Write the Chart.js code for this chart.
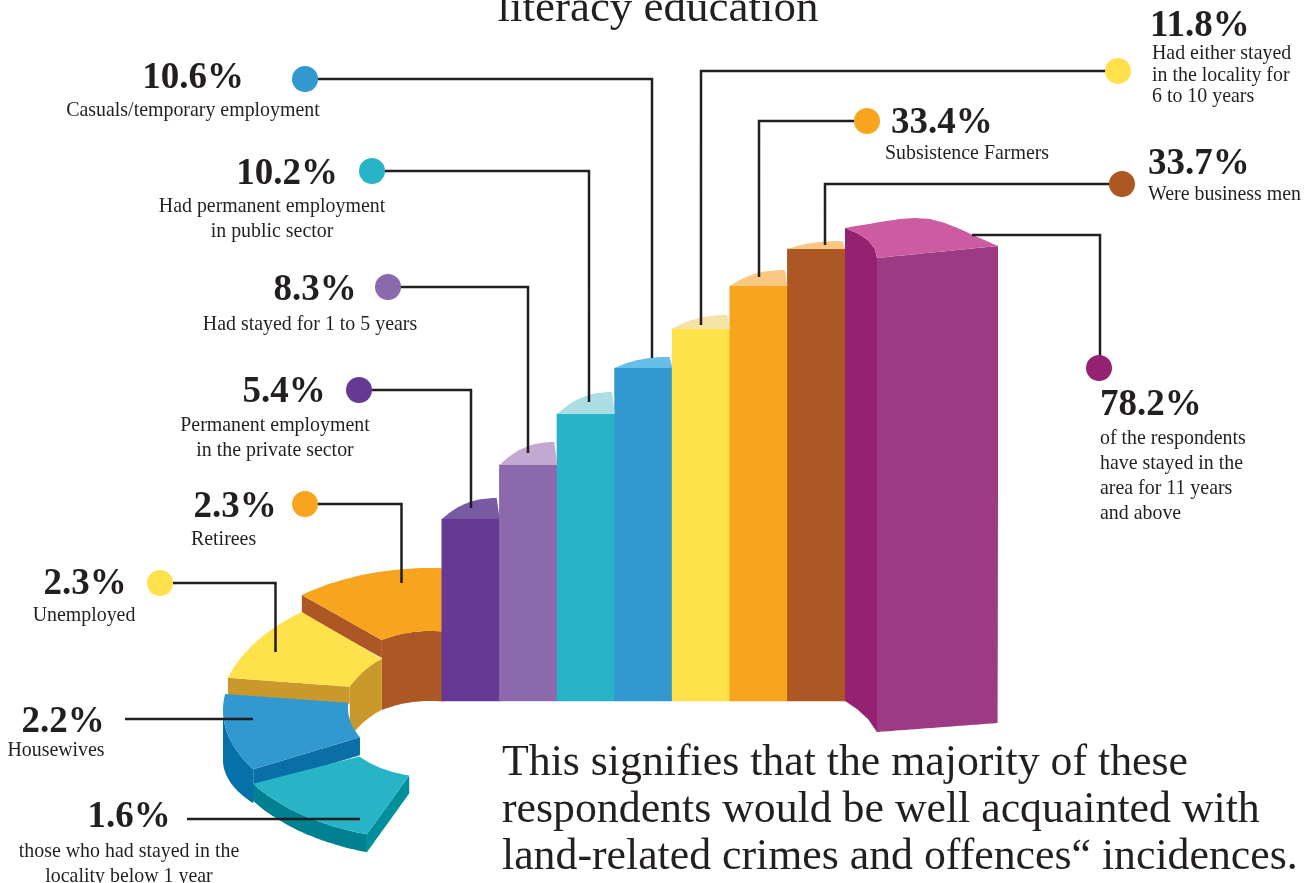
<!DOCTYPE html>
<html lang="en">
<head>
<meta charset="utf-8">
<title>Respondents</title>
<script src="https://cdn.jsdelivr.net/npm/chart.js@4/dist/chart.umd.js"></script>
<style>
    html, body { margin: 0; padding: 0; background: #fff; }
    canvas { display: block; }
</style>
</head>
<body>
<canvas id="chart" width="1314" height="883"></canvas>
<script>
// ring slices, from the back of the ring round to the front
const ringCaptions = [
    ["Retirees"],
    ["Unemployed"],
    ["Housewives"],
    ["those who had stayed in the", "locality below 1 year"]
];
const ringPercents = [2.3, 2.3, 2.2, 1.6];

// columns, shortest to tallest
const barCaptions = [
    ["Permanent employment", "in the private sector"],
    ["Had stayed for 1 to 5 years"],
    ["Had permanent employment", "in public sector"],
    ["Casuals/temporary employment"],
    ["Had either stayed", "in the locality for", "6 to 10 years"],
    ["Subsistence Farmers"],
    ["Were business men"],
    ["of the respondents", "have stayed in the", "area for 11 years", "and above"]
];
const barPercents = [5.4, 8.3, 10.2, 10.6, 11.8, 33.4, 33.7, 78.2];

const titleLine = "literacy education";
const summaryLines = [
    "This signifies that the majority of these",
    "respondents would be well acquainted with",
    "land-related crimes and offences\u201C incidences."
];

const INK = "#231f20";
const SERIF = '"Liberation Serif", serif';

const barColors = ["#663a94", "#8c68ac", "#27b4c7", "#3199cf", "#ffe14b", "#f7a51e", "#ad5725"];
const capColors = ["#7859a3", "#c3a8d2", "#abdde4", "#66bfe6", "#f5e3a5", "#f8c781", "#f8c781"];
const capRise = [21, 23, 22, 11, 14, 16, 8];
const barLeft = 442;
const barStep = 57.6;

// the columns are stepped, not to scale: percent -> canvas y
const stairKnots = [[0, 701], [5.4, 519], [8.3, 465], [10.2, 414], [10.6, 368], [11.8, 329], [33.4, 286], [33.7, 249], [78.2, 228], [100, 200]];

function stairY(value) {
    for (let i = 1; i < stairKnots.length; i++) {
        const [v0, y0] = stairKnots[i - 1];
        const [v1, y1] = stairKnots[i];
        if (value <= v1) {
            return y0 + (y1 - y0) * (value - v0) / (v1 - v0);
        }
    }
    return stairKnots[stairKnots.length - 1][1];
}

class StairScale extends Chart.LinearScale {
    getPixelForValue(value) {
        return stairY(value);
    }
}
StairScale.id = "stair";
StairScale.defaults = {};
Chart.register(StairScale);

// angles run from the top of the ellipse, anticlockwise
function arc([cx, cy, rx, ry, from, to], drop = [0, 0]) {
    const points = [];
    const steps = 18;
    for (let i = 0; i <= steps; i++) {
        const t = (from + (to - from) * i / steps) * Math.PI / 180;
        const shift = drop[0] + (drop[1] - drop[0]) * i / steps;
        points.push({ x: cx - rx * Math.sin(t), y: cy - ry * Math.cos(t) + shift });
    }
    return points;
}

const ringSlices = [
    { top: "#f7a51e", cut: "#ad5725", wall: "#ad5725", depth: 18, innerDrop: 70,
      outer: [430, 701, 212, 133, -5, 37.2], inner: [430, 701, 98, 70, -8, 29.4] },
    { top: "#ffe14b", cut: "#c9992c", wall: "#c9992c", depth: 17, innerDrop: 51,
      outer: [430, 718, 212, 133, 37.2, 72.4], inner: [430, 730, 94, 83, 30.8, 58.6] },
    { top: "#3199cf", cut: "#0a6fa6", wall: "#0671a8", depth: 18, outerDrop: [50, 34], wallFrom: 90,
      outer: [435, 710, 212, 115, 82, 121], inner: [440, 708, 92, 59, 85, 119.6] },
    { top: "#27b4c7", cut: "#00909b", wall: "#008090", depth: 18, outerDrop: [17, 18], wallFrom: 123.4,
      outer: [430, 715, 212, 125, 123.4, 162.7], inner: [430, 707, 100, 70, 135, 168] }
];

const datasets = [];

// later calls end up on top; the tiny tension keeps Chart.js off its fast path,
// which merges points that share an x pixel and breaks closed outlines
function shape(points, color) {
    datasets.push({
        type: "scatter",
        data: points,
        showLine: true,
        fill: "shape",
        tension: 0.0001,
        backgroundColor: color,
        borderWidth: 0,
        pointRadius: 0,
        xAxisID: "x",
        yAxisID: "grid",
        order: 1000 - datasets.length
    });
}

function leader(points) {
    datasets.push({
        type: "scatter",
        data: points,
        showLine: true,
        fill: false,
        tension: 0.0001,
        borderColor: INK,
        borderWidth: 2.5,
        pointRadius: 0,
        xAxisID: "x",
        yAxisID: "grid",
        order: 1000 - datasets.length
    });
}

function drawRingSlice(slice) {
    const outer = arc(slice.outer);
    const inner = arc(slice.inner);
    const outerEnd = outer[outer.length - 1];
    const innerEnd = inner[inner.length - 1];
    if (slice.innerDrop) {
        shape([...inner, ...arc(slice.inner, [slice.innerDrop, slice.innerDrop]).reverse()], slice.wall);
    }
    if (slice.outerDrop) {
        const wallEdge = [...slice.outer];
        wallEdge[4] = slice.wallFrom;
        shape([...arc(wallEdge), ...arc(wallEdge, slice.outerDrop).reverse()], slice.wall);
    }
    shape([outerEnd, innerEnd, { x: innerEnd.x, y: innerEnd.y + slice.depth }, { x: outerEnd.x, y: outerEnd.y + slice.depth }], slice.cut);
    shape([...outer, ...inner.slice().reverse()], slice.top);
}

ringSlices.forEach(drawRingSlice);

// the seven flat columns
const flatPercents = barPercents.slice(0, 7);
datasets.push({
    type: "bar",
    data: flatPercents.map((value, i) => ({ x: barLeft + barStep * (i + 0.5), y: value })),
    backgroundColor: barColors,
    borderWidth: 0,
    barThickness: barStep + 0.4,
    xAxisID: "x",
    yAxisID: "y",
    order: 1000 - datasets.length
});

// curved caps sitting on the columns; outline starts at the lower right corner
flatPercents.forEach((value, i) => {
    const left = barLeft + barStep * i;
    const top = stairY(value);
    const cap = [{ x: left + barStep, y: top }];
    for (let u = 0; u <= 1.001; u += 0.05) {
        cap.push({ x: left + barStep * u, y: top - capRise[i] * (1 - Math.pow(1 - u, 2.5)) });
    }
    shape(cap, capColors[i]);
});

// the big box at the end of the run
const boxTop = stairY(barPercents[7]);
shape([
    { x: 845, y: 701 }, { x: 857, y: 709 }, { x: 868, y: 719 }, { x: 877, y: 732 },
    { x: 877, y: boxTop + 30 }, { x: 875, y: boxTop + 21 }, { x: 868, y: boxTop + 12 },
    { x: 857, y: boxTop + 5 }, { x: 845, y: boxTop }
], "#952270");
shape([
    { x: 877, y: boxTop + 30 }, { x: 998, y: boxTop + 18 }, { x: 998, y: 723 }, { x: 877, y: 732 }
], "#9c3a83");
shape([
    { x: 845, y: boxTop }, { x: 880, y: boxTop - 6 }, { x: 900, y: boxTop - 9 }, { x: 915, y: boxTop - 10 },
    { x: 930, y: boxTop - 9 }, { x: 945, y: boxTop - 5 }, { x: 960, y: boxTop + 1 }, { x: 975, y: boxTop + 8 },
    { x: 998, y: boxTop + 18 }, { x: 877, y: boxTop + 30 }, { x: 875, y: boxTop + 21 }, { x: 868, y: boxTop + 12 },
    { x: 857, y: boxTop + 5 }
], "#cc5ca2");

// leader lines, dot end first
leader([{ x: 305, y: 79 }, { x: 652, y: 79 }, { x: 652, y: 358 }]);
leader([{ x: 372, y: 171 }, { x: 589, y: 171 }, { x: 589, y: 402 }]);
leader([{ x: 388, y: 287 }, { x: 528, y: 287 }, { x: 528, y: 453 }]);
leader([{ x: 359, y: 390 }, { x: 471, y: 390 }, { x: 471, y: 508 }]);
leader([{ x: 305, y: 504 }, { x: 401.5, y: 504 }, { x: 401.5, y: 583 }]);
leader([{ x: 160, y: 583 }, { x: 275.5, y: 583 }, { x: 275.5, y: 652 }]);
leader([{ x: 125, y: 719 }, { x: 253, y: 719 }]);
leader([{ x: 187, y: 819 }, { x: 360, y: 819 }]);
leader([{ x: 1118, y: 71 }, { x: 701, y: 71 }, { x: 701, y: 325 }]);
leader([{ x: 867, y: 121 }, { x: 759, y: 121 }, { x: 759, y: 277 }]);
leader([{ x: 1122, y: 184 }, { x: 825, y: 184 }, { x: 825, y: 245 }]);
leader([{ x: 972, y: 235 }, { x: 1100, y: 235 }, { x: 1100, y: 368 }]);

// callout dots
datasets.push({
    type: "scatter",
    data: [
        { x: 305, y: 79 }, { x: 372, y: 171 }, { x: 388, y: 287 }, { x: 359, y: 390 }, { x: 305, y: 504 },
        { x: 160, y: 583 }, { x: 1118, y: 71 }, { x: 867, y: 121 }, { x: 1122, y: 184 }, { x: 1099, y: 368 }
    ],
    pointRadius: 13,
    pointBorderWidth: 0,
    pointBackgroundColor: ["#3199cf", "#27b4c7", "#8c68ac", "#663a94", "#f7a51e", "#ffe14b", "#ffe14b", "#f7a51e", "#ad5725", "#952270"],
    xAxisID: "x",
    yAxisID: "grid",
    order: 0
});

// where each callout's figure and caption sit: anchor, figure x/y, caption x, caption y of each line
const ringLabelSpots = [
    { align: "center", x: 235, y: 517, capAlign: "left", capX: 191, capY: [544] },
    { align: "center", x: 85, y: 594, capX: 84, capY: [620] },
    { align: "center", x: 63, y: 732, capX: 56, capY: [755] },
    { align: "center", x: 129, y: 827, capX: 129, capY: [856, 881] }
];
const barLabelSpots = [
    { align: "center", x: 284, y: 402, capX: 275, capY: [430, 455] },
    { align: "center", x: 315, y: 300, capX: 310, capY: [329] },
    { align: "center", x: 287, y: 184, capX: 272, capY: [211, 236] },
    { align: "center", x: 193, y: 88, capX: 193, capY: [115] },
    { align: "left", x: 1150, y: 36, capX: 1152, capY: [58, 80, 101] },
    { align: "left", x: 891, y: 133, capX: 885, capY: [158] },
    { align: "left", x: 1148, y: 174, capX: 1148, capY: [199] },
    { align: "left", x: 1100, y: 415, capX: 1100, capY: [443, 468, 493, 518] }
];

function drawCallout(ctx, percent, captions, spot) {
    ctx.font = `bold 37px ${SERIF}`;
    ctx.textAlign = spot.align;
    ctx.fillText(`${percent}%`, spot.x, spot.y);
    ctx.font = `19.9px ${SERIF}`;
    ctx.textAlign = spot.capAlign || spot.align;
    captions.forEach((line, i) => ctx.fillText(line, spot.capX, spot.capY[i] + 1));
}

const textPlugin = {
    id: "calloutText",
    afterDraw(chart) {
        const { ctx } = chart;
        ctx.save();
        ctx.fillStyle = INK;
        ctx.textBaseline = "alphabetic";
        ringPercents.forEach((percent, i) => drawCallout(ctx, percent, ringCaptions[i], ringLabelSpots[i]));
        barPercents.forEach((percent, i) => drawCallout(ctx, percent, barCaptions[i], barLabelSpots[i]));
        ctx.font = `45px ${SERIF}`;
        ctx.textAlign = "center";
        ctx.fillText(titleLine, 658, 21);
        ctx.font = `43.8px ${SERIF}`;
        ctx.textAlign = "left";
        summaryLines.forEach((line, i) => ctx.fillText(line, 502, 775 + 47 * i));
        ctx.restore();
    }
};

new Chart(document.getElementById("chart"), {
    data: { datasets },
    plugins: [textPlugin],
    options: {
        responsive: false,
        animation: false,
        devicePixelRatio: 1,
        layout: { padding: 0, autoPadding: false },
        plugins: { legend: { display: false }, tooltip: { enabled: false } },
        scales: {
            x: { type: "linear", axis: "x", min: 0, max: 1314, offset: false, display: false },
            y: { type: "stair", axis: "y", min: 0, max: 100, display: false },
            grid: { type: "linear", axis: "y", min: 0, max: 883, reverse: true, display: false }
        }
    }
});
</script>
</body>
</html>
